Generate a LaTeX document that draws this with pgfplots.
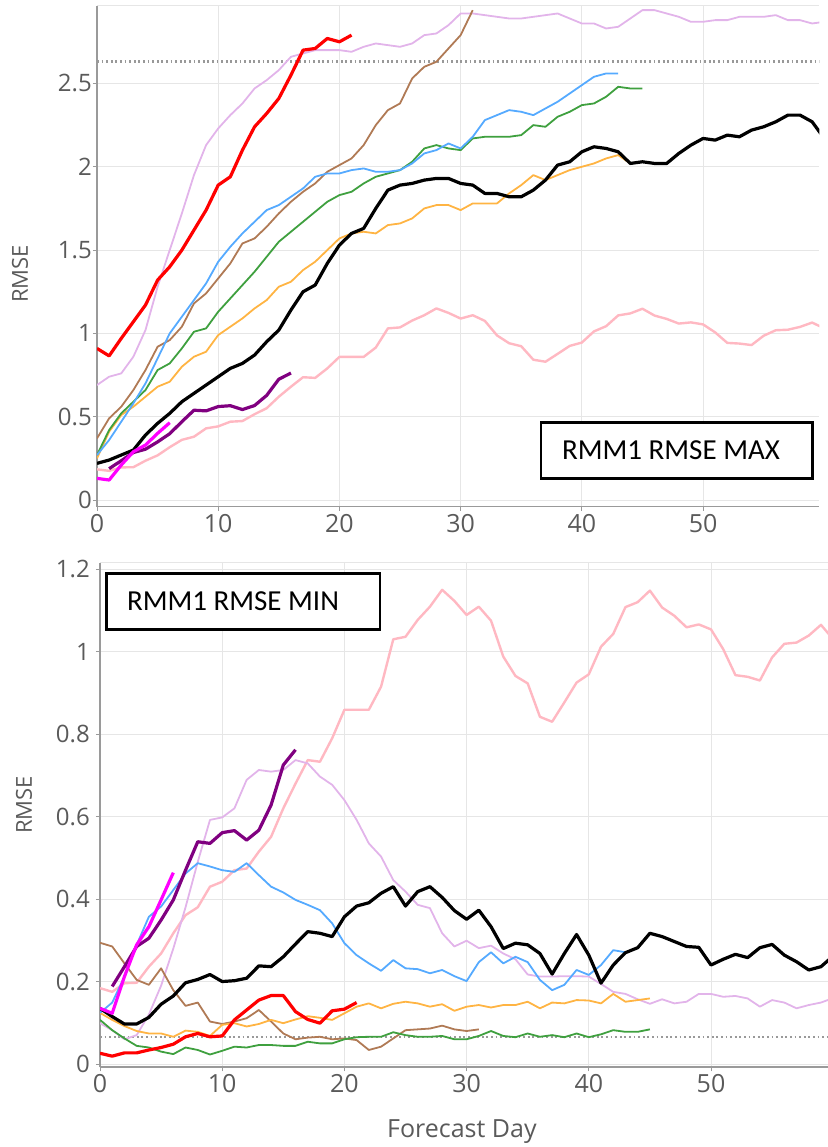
\documentclass[border=0pt]{standalone}
\usepackage{fontspec}
\usepackage{pgfplots}
\pgfplotsset{compat=1.18}
\setmainfont{Open Sans}
\newfontfamily\boxfont{Carlito}
\definecolor{cRed}{HTML}{FF0000}
\definecolor{cPlum}{HTML}{E2B4EA}
\definecolor{cBrown}{HTML}{B07A55}
\definecolor{cBlue}{HTML}{55AAFF}
\definecolor{cGreen}{HTML}{3FA03F}
\definecolor{cOrange}{HTML}{FFB443}
\definecolor{cPink}{HTML}{FFB8C2}
\definecolor{cPurple}{HTML}{800080}
\definecolor{cMagenta}{HTML}{FF00FF}
\definecolor{cGrid}{HTML}{E6E6E6}
\definecolor{cTick}{HTML}{5A5A5A}
\definecolor{cSpine}{HTML}{9A9A9A}
\pgfplotsset{
  myaxis/.style={
    scale only axis,
    anchor=south west,
    axis lines=left,
    axis line style={-, cSpine, line width=1.6pt},
    grid=major,
    major grid style={cGrid, line width=1pt},
    tick align=outside,
    major tick length=4pt,
    tick style={cSpine, line width=1pt},
    /pgf/number format/assume math mode=true,
    yticklabel style={font=\fontsize{24}{28}\selectfont, text=cTick, inner sep=1pt},
    xticklabel style={font=\fontsize{25}{30}\selectfont, text=cTick},
    label style={font=\fontsize{22}{26}\selectfont, text=cTick},
    xtick={0,10,20,30,40,50},
    xmin=0, xmax=59.6,
    clip=true,
  },
  thin/.style={line width=1.8pt, line join=round},
  thick/.style={line width=3.2pt, line join=round},
  refline/.style={gray!80, line width=2.4pt, dash pattern=on 1.8pt off 2.8pt},
}
\begin{document}
\begin{tikzpicture}
\useasboundingbox (0,0) rectangle (827pt,1147pt);
% ================= TOP PANEL =================
\begin{axis}[myaxis,
  at={(97pt,640.3pt)}, width=722.4pt, height=500.7pt,
  ymin=-0.04, ymax=2.965,
  ytick={0,0.5,1,1.5,2,2.5},
  ylabel={RMSE},
  ylabel style={at={(axis description cs:-0.1066,0.465)}, anchor=center, rotate=0},
]
\draw[cGrid, line width=1pt] (rel axis cs:0,1) -- (rel axis cs:1,1);
\addplot[refline] coordinates {(0,2.633) (59.6,2.633)};
% plum
\addplot[cPlum, thin] coordinates {(0,0.69)(1,0.74)(2,0.76)(3,0.86)(4,1.02)(5,1.28)(6,1.50)(7,1.72)(8,1.95)(9,2.13)(10,2.23)(11,2.31)(12,2.38)(13,2.47)(14,2.52)(15,2.58)(16,2.66)(17,2.68)(18,2.70)(19,2.70)(20,2.70)(21,2.69)(22,2.72)(23,2.74)(24,2.73)(25,2.72)(26,2.74)(27,2.79)(28,2.80)(29,2.85)(30,2.92)(31,2.92)(32,2.91)(33,2.90)(34,2.89)(35,2.89)(36,2.90)(37,2.91)(38,2.92)(39,2.89)(40,2.86)(41,2.86)(42,2.83)(43,2.84)(44,2.89)(45,2.94)(46,2.94)(47,2.92)(48,2.90)(49,2.87)(50,2.87)(51,2.88)(52,2.88)(53,2.90)(54,2.90)(55,2.90)(56,2.91)(57,2.88)(58,2.88)(59,2.86)(60,2.87)};
% pink
\addplot[cPink, line width=2.4pt, line join=round] coordinates {(0,0.184)(1,0.175)(2,0.196)(3,0.197)(4,0.236)(5,0.268)(6,0.317)(7,0.361)(8,0.38)(9,0.43)(10,0.442)(11,0.47)(12,0.474)(13,0.515)(14,0.551)(15,0.62)(16,0.68)(17,0.737)(18,0.733)(19,0.79)(20,0.859)(21,0.859)(22,0.859)(23,0.915)(24,1.03)(25,1.036)(26,1.077)(27,1.109)(28,1.15)(29,1.123)(30,1.089)(31,1.109)(32,1.075)(33,0.988)(34,0.941)(35,0.923)(36,0.842)(37,0.830)(38,0.877)(39,0.925)(40,0.945)(41,1.012)(42,1.043)(43,1.108)(44,1.120)(45,1.148)(46,1.107)(47,1.087)(48,1.059)(49,1.066)(50,1.054)(51,1.006)(52,0.943)(53,0.939)(54,0.930)(55,0.986)(56,1.019)(57,1.022)(58,1.039)(59,1.065)(60,1.03)};
% brown
\addplot[cBrown, thin] coordinates {(0,0.37)(1,0.49)(2,0.56)(3,0.66)(4,0.78)(5,0.92)(6,0.96)(7,1.04)(8,1.18)(9,1.24)(10,1.33)(11,1.42)(12,1.54)(13,1.57)(14,1.64)(15,1.72)(16,1.79)(17,1.85)(18,1.90)(19,1.97)(20,2.01)(21,2.05)(22,2.13)(23,2.25)(24,2.34)(25,2.38)(26,2.53)(27,2.60)(28,2.63)(29,2.71)(30,2.79)(31,2.94)};
% orange
\addplot[cOrange, thin] coordinates {(0,0.25)(1,0.41)(2,0.51)(3,0.56)(4,0.62)(5,0.68)(6,0.71)(7,0.80)(8,0.86)(9,0.89)(10,0.99)(11,1.04)(12,1.09)(13,1.15)(14,1.20)(15,1.28)(16,1.31)(17,1.38)(18,1.43)(19,1.50)(20,1.57)(21,1.60)(22,1.61)(23,1.60)(24,1.65)(25,1.66)(26,1.69)(27,1.75)(28,1.77)(29,1.77)(30,1.74)(31,1.78)(32,1.78)(33,1.78)(34,1.84)(35,1.89)(36,1.95)(37,1.92)(38,1.95)(39,1.98)(40,2.00)(41,2.02)(42,2.05)(43,2.07)(44,2.02)(45,2.03)};
% green
\addplot[cGreen, thin] coordinates {(0,0.27)(1,0.42)(2,0.52)(3,0.59)(4,0.66)(5,0.78)(6,0.82)(7,0.91)(8,1.01)(9,1.03)(10,1.13)(11,1.21)(12,1.29)(13,1.37)(14,1.46)(15,1.55)(16,1.61)(17,1.67)(18,1.73)(19,1.79)(20,1.83)(21,1.85)(22,1.90)(23,1.94)(24,1.96)(25,1.98)(26,2.03)(27,2.11)(28,2.13)(29,2.11)(30,2.10)(31,2.17)(32,2.18)(33,2.18)(34,2.18)(35,2.19)(36,2.25)(37,2.24)(38,2.30)(39,2.33)(40,2.37)(41,2.38)(42,2.42)(43,2.48)(44,2.47)(45,2.47)};
% blue
\addplot[cBlue, thin] coordinates {(0,0.27)(1,0.36)(2,0.47)(3,0.58)(4,0.70)(5,0.85)(6,1.00)(7,1.10)(8,1.20)(9,1.30)(10,1.43)(11,1.52)(12,1.60)(13,1.67)(14,1.74)(15,1.77)(16,1.82)(17,1.87)(18,1.94)(19,1.96)(20,1.96)(21,1.98)(22,1.99)(23,1.97)(24,1.97)(25,1.98)(26,2.02)(27,2.08)(28,2.10)(29,2.14)(30,2.11)(31,2.18)(32,2.28)(33,2.31)(34,2.34)(35,2.33)(36,2.31)(37,2.35)(38,2.39)(39,2.44)(40,2.49)(41,2.54)(42,2.56)(43,2.56)};
% black
\addplot[black, thick] coordinates {(0,0.22)(1,0.24)(2,0.27)(3,0.30)(4,0.39)(5,0.46)(6,0.52)(7,0.59)(8,0.64)(9,0.69)(10,0.74)(11,0.79)(12,0.82)(13,0.87)(14,0.95)(15,1.02)(16,1.14)(17,1.25)(18,1.29)(19,1.42)(20,1.53)(21,1.60)(22,1.63)(23,1.75)(24,1.86)(25,1.89)(26,1.90)(27,1.92)(28,1.93)(29,1.93)(30,1.90)(31,1.89)(32,1.84)(33,1.84)(34,1.82)(35,1.82)(36,1.86)(37,1.92)(38,2.01)(39,2.03)(40,2.09)(41,2.12)(42,2.11)(43,2.09)(44,2.02)(45,2.03)(46,2.02)(47,2.02)(48,2.08)(49,2.13)(50,2.17)(51,2.16)(52,2.19)(53,2.18)(54,2.22)(55,2.24)(56,2.27)(57,2.31)(58,2.31)(59,2.27)(60,2.17)};
% purple
\addplot[cPurple, thick] coordinates {(1,0.188)(2,0.236)(3,0.285)(4,0.305)(5,0.349)(6,0.398)(7,0.47)(8,0.539)(9,0.535)(10,0.561)(11,0.566)(12,0.543)(13,0.567)(14,0.628)(15,0.725)(16,0.762)};
% magenta
\addplot[cMagenta, thick] coordinates {(0,0.13)(1,0.12)(2,0.21)(3,0.29)(4,0.33)(5,0.40)(6,0.464)};
% red
\addplot[cRed, thick] coordinates {(0,0.91)(1,0.865)(2,0.97)(3,1.07)(4,1.17)(5,1.32)(6,1.40)(7,1.50)(8,1.62)(9,1.74)(10,1.89)(11,1.94)(12,2.10)(13,2.24)(14,2.32)(15,2.41)(16,2.55)(17,2.70)(18,2.71)(19,2.77)(20,2.75)(21,2.79)};
\end{axis}
% ================= BOTTOM PANEL =================
\begin{axis}[myaxis,
  at={(100pt,79.7pt)}, width=728.3pt, height=504.3pt,
  ymin=-0.008, ymax=1.215,
  ytick={0,0.2,0.4,0.6,0.8,1,1.2},
  yticklabel style={xshift=-5pt},
  ylabel={RMSE},
  ylabel style={at={(axis description cs:-0.1044,0.520)}, anchor=center, rotate=0},
  xlabel={Forecast Day},
  xlabel style={at={(axis description cs:0.497,-0.128)}, anchor=center, font=\fontsize{25}{30}\selectfont},
]
\draw[cGrid, line width=1pt] (rel axis cs:0,1) -- (rel axis cs:1,1);
\addplot[refline] coordinates {(0,0.065) (59.6,0.065)};
% pink
\addplot[cPink, line width=2.4pt, line join=round] coordinates {(0,0.184)(1,0.175)(2,0.196)(3,0.197)(4,0.236)(5,0.268)(6,0.317)(7,0.361)(8,0.38)(9,0.43)(10,0.442)(11,0.47)(12,0.474)(13,0.515)(14,0.551)(15,0.62)(16,0.68)(17,0.737)(18,0.733)(19,0.79)(20,0.859)(21,0.859)(22,0.859)(23,0.915)(24,1.03)(25,1.036)(26,1.077)(27,1.109)(28,1.15)(29,1.123)(30,1.089)(31,1.109)(32,1.075)(33,0.988)(34,0.941)(35,0.923)(36,0.842)(37,0.830)(38,0.877)(39,0.925)(40,0.945)(41,1.012)(42,1.043)(43,1.108)(44,1.120)(45,1.148)(46,1.107)(47,1.087)(48,1.059)(49,1.066)(50,1.054)(51,1.006)(52,0.943)(53,0.939)(54,0.930)(55,0.986)(56,1.019)(57,1.022)(58,1.039)(59,1.065)(60,1.03)};
% plum
\addplot[cPlum, thin] coordinates {(0,0.099)(1,0.082)(2,0.06)(3,0.07)(4,0.12)(5,0.19)(6,0.28)(7,0.38)(8,0.49)(9,0.592)(10,0.598)(11,0.62)(12,0.689)(13,0.713)(14,0.709)(15,0.713)(16,0.737)(17,0.729)(18,0.697)(19,0.677)(20,0.64)(21,0.592)(22,0.535)(23,0.503)(24,0.446)(25,0.418)(26,0.386)(27,0.378)(28,0.317)(29,0.285)(30,0.299)(31,0.281)(32,0.287)(33,0.268)(34,0.254)(35,0.217)(36,0.212)(37,0.212)(38,0.213)(39,0.213)(40,0.212)(41,0.194)(42,0.175)(43,0.17)(44,0.157)(45,0.146)(46,0.157)(47,0.147)(48,0.151)(49,0.17)(50,0.17)(51,0.163)(52,0.165)(53,0.159)(54,0.139)(55,0.155)(56,0.149)(57,0.135)(58,0.143)(59,0.149)(60,0.16)};
% brown
\addplot[cBrown, thin] coordinates {(0,0.294)(1,0.285)(2,0.244)(3,0.204)(4,0.192)(5,0.232)(6,0.179)(7,0.141)(8,0.149)(9,0.103)(10,0.097)(11,0.103)(12,0.111)(13,0.131)(14,0.103)(15,0.074)(16,0.06)(17,0.064)(18,0.066)(19,0.06)(20,0.062)(21,0.058)(22,0.034)(23,0.042)(24,0.062)(25,0.082)(26,0.084)(27,0.086)(28,0.093)(29,0.084)(30,0.08)(31,0.084)};
% orange
\addplot[cOrange, thin] coordinates {(0,0.124)(1,0.107)(2,0.092)(3,0.08)(4,0.074)(5,0.074)(6,0.066)(7,0.081)(8,0.078)(9,0.068)(10,0.095)(11,0.099)(12,0.091)(13,0.097)(14,0.107)(15,0.099)(16,0.108)(17,0.116)(18,0.112)(19,0.107)(20,0.123)(21,0.139)(22,0.147)(23,0.135)(24,0.146)(25,0.151)(26,0.147)(27,0.139)(28,0.145)(29,0.129)(30,0.139)(31,0.143)(32,0.137)(33,0.143)(34,0.143)(35,0.151)(36,0.135)(37,0.149)(38,0.147)(39,0.155)(40,0.154)(41,0.147)(42,0.17)(43,0.151)(44,0.155)(45,0.159)};
% green
\addplot[cGreen, thin] coordinates {(0,0.107)(1,0.082)(2,0.062)(3,0.044)(4,0.04)(5,0.03)(6,0.024)(7,0.04)(8,0.034)(9,0.023)(10,0.032)(11,0.042)(12,0.04)(13,0.046)(14,0.046)(15,0.044)(16,0.044)(17,0.054)(18,0.05)(19,0.05)(20,0.06)(21,0.065)(22,0.066)(23,0.066)(24,0.077)(25,0.07)(26,0.066)(27,0.066)(28,0.068)(29,0.06)(30,0.06)(31,0.068)(32,0.08)(33,0.068)(34,0.065)(35,0.074)(36,0.066)(37,0.07)(38,0.065)(39,0.074)(40,0.065)(41,0.072)(42,0.082)(43,0.078)(44,0.078)(45,0.084)};
% blue
\addplot[cBlue, thin] coordinates {(0,0.124)(1,0.149)(2,0.212)(3,0.289)(4,0.357)(5,0.382)(6,0.422)(7,0.462)(8,0.487)(9,0.479)(10,0.47)(11,0.466)(12,0.487)(13,0.458)(14,0.43)(15,0.416)(16,0.398)(17,0.386)(18,0.373)(19,0.341)(20,0.293)(21,0.264)(22,0.244)(23,0.226)(24,0.252)(25,0.232)(26,0.23)(27,0.22)(28,0.228)(29,0.213)(30,0.201)(31,0.247)(32,0.271)(33,0.244)(34,0.26)(35,0.247)(36,0.204)(37,0.179)(38,0.192)(39,0.228)(40,0.216)(41,0.24)(42,0.276)(43,0.271)};
% black
\addplot[black, thick] coordinates {(0,0.135)(1,0.115)(2,0.097)(3,0.097)(4,0.113)(5,0.145)(6,0.165)(7,0.197)(8,0.205)(9,0.217)(10,0.2)(11,0.202)(12,0.208)(13,0.238)(14,0.236)(15,0.26)(16,0.291)(17,0.321)(18,0.317)(19,0.309)(20,0.357)(21,0.383)(22,0.391)(23,0.414)(24,0.43)(25,0.383)(26,0.418)(27,0.43)(28,0.404)(29,0.372)(30,0.351)(31,0.373)(32,0.333)(33,0.28)(34,0.293)(35,0.289)(36,0.268)(37,0.218)(38,0.268)(39,0.314)(40,0.264)(41,0.196)(42,0.24)(43,0.27)(44,0.282)(45,0.317)(46,0.309)(47,0.297)(48,0.285)(49,0.283)(50,0.24)(51,0.254)(52,0.266)(53,0.258)(54,0.282)(55,0.29)(56,0.264)(57,0.248)(58,0.228)(59,0.236)(60,0.262)};
% purple
\addplot[cPurple, thick] coordinates {(1,0.188)(2,0.236)(3,0.285)(4,0.305)(5,0.349)(6,0.398)(7,0.47)(8,0.539)(9,0.535)(10,0.561)(11,0.566)(12,0.543)(13,0.567)(14,0.628)(15,0.725)(16,0.762)};
% magenta
\addplot[cMagenta, thick] coordinates {(0,0.135)(1,0.123)(2,0.212)(3,0.289)(4,0.333)(5,0.398)(6,0.464)};
% red
\addplot[cRed, thick] coordinates {(0,0.026)(1,0.019)(2,0.027)(3,0.027)(4,0.034)(5,0.04)(6,0.048)(7,0.066)(8,0.074)(9,0.066)(10,0.068)(11,0.107)(12,0.131)(13,0.155)(14,0.166)(15,0.166)(16,0.127)(17,0.108)(18,0.099)(19,0.129)(20,0.133)(21,0.149)};
\end{axis}
% ================= annotation boxes =================
\draw[black, line width=2.6pt, fill=white] (541pt,668.3pt) rectangle (812.7pt,724.3pt);
\node[font=\boxfont\fontsize{29}{34}\selectfont, anchor=center] at (671pt,696.3pt) {RMM1 RMSE MAX};
\draw[black, line width=2.6pt, fill=white] (106.7pt,517.7pt) rectangle (380pt,573.7pt);
\node[font=\boxfont\fontsize{29}{34}\selectfont, anchor=center] at (233pt,545.7pt) {RMM1 RMSE MIN};
\end{tikzpicture}
\end{document}
